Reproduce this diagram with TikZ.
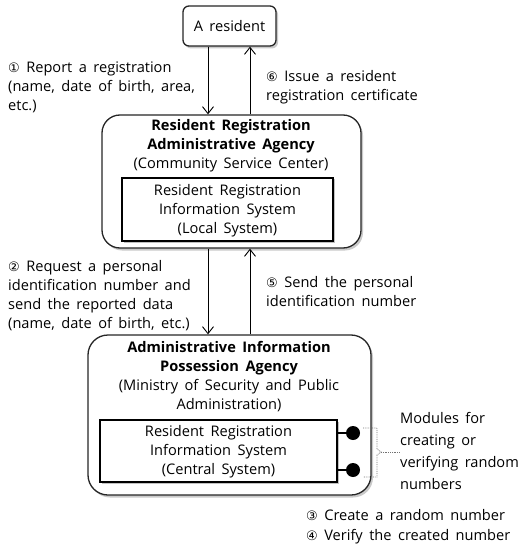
\documentclass[tikz,border=0pt]{standalone}
\usepackage{fontspec}
\setmainfont{Open Sans}[WordSpace=1.7]
\newfontfamily\symf{DejaVu Sans}
\usetikzlibrary{arrows.meta,shadows,calc}
\newcommand{\cn}[1]{{\symf\fontsize{13}{14}\selectfont #1}}
\begin{document}
\begin{tikzpicture}[x=1pt,y=-1pt,
  txt/.style={inner sep=0pt,align=left,font=\fontsize{14.6}{19}\selectfont},
  ctxt/.style={inner sep=0pt,align=center,font=\fontsize{14.6}{19}\selectfont},
  rbox/.style={draw=black!85,line width=1.3pt,fill=white,drop shadow={shadow xshift=2pt,shadow yshift=-2.5pt,fill=black!35,opacity=0.6}},
  ibox/.style={draw=black,line width=1.1pt,fill=white,drop shadow={shadow xshift=1.5pt,shadow yshift=-1.5pt,fill=black!40,opacity=0.6}},
  arr/.style={line width=0.9pt,-{Straight Barb[length=7pt,width=11pt,line width=0.9pt]}},
  brk/.style={draw=black!55,densely dotted,line width=0.8pt}]
\useasboundingbox (0,0) rectangle (521,545);
% boxes
\node[rbox,rounded corners=6pt,minimum width=93pt,minimum height=40pt,inner sep=0pt] (res) at (229.5,26) {};
\node[ctxt] (rest) at (229.5,26) {A resident};
\node[rbox,rounded corners=18pt,minimum width=259pt,minimum height=133pt,inner sep=0pt] (ag1) at (231.5,181.5) {};
\node[ibox,minimum width=211pt,minimum height=63pt,inner sep=0pt] (in1) at (227.5,209.5) {};
\node[ctxt,anchor=north] (ag1t) at (231,119) {\textbf{Resident Registration}\\\textbf{Administrative Agency}\\(Community Service Center)};
\node[ctxt] (in1t) at (227.5,211) {Resident Registration\\Information System\\(Local System)};
\node[rbox,rounded corners=20pt,minimum width=283pt,minimum height=160pt,inner sep=0pt] (ag2) at (229.5,415) {};
\node[ibox,minimum width=237pt,minimum height=62pt,inner sep=0pt] (in2) at (218.5,451) {};
\node[ctxt,anchor=north] (ag2t) at (229,341) {\textbf{Administrative Information}\\\textbf{Possession Agency}\\(Ministry of Security and Public\\Administration)};
\node[ctxt] (in2t) at (218.5,452) {Resident Registration\\Information System\\(Central System)};
% module dots
\node[circle,fill=black,minimum size=14pt,inner sep=0pt] (d1) at (353,433) {};
\node[circle,fill=black,minimum size=14pt,inner sep=0pt] (d2) at (353,470) {};
\draw[line width=1.1pt] (in2.east |- d1) -- (d1);
\draw[line width=1.1pt] (in2.east |- d2) -- (d2);
% arrow columns
\coordinate (xa) at (208,0);
\coordinate (xb) at (250,0);
\draw[arr] (res.south -| xa) -- (ag1.north -| xa);
\draw[arr] (ag1.north -| xb) -- (res.south -| xb);
\draw[arr] (ag1.south -| xa) -- (ag2.north -| xa);
\draw[arr] (ag2.north -| xb) -- (ag1.south -| xb);
% labels
\node[txt,anchor=north west] (l1) at (8,62) {\cn{①} Report a registration\\(name, date of birth, area,\\etc.)};
\node[txt,anchor=north west] (l6) at (266,70) {\cn{⑥} Issue a resident\\registration certificate};
\node[txt,anchor=north west] (l2) at (8,260) {\cn{②} Request a personal\\identification number and\\send the reported data\\(name, date of birth, etc.)};
\node[txt,anchor=north west] (l5) at (266,276) {\cn{⑤} Send the personal\\identification number};
\node[txt,anchor=north west,font=\fontsize{14.6}{22}\selectfont] (mod) at (400,412) {Modules for\\creating or\\verifying random\\numbers};
\node[txt,anchor=north west,font=\fontsize{14.6}{20.5}\selectfont] (l34) at (306,509) {\cn{③} Create a random number\\\cn{④} Verify the created number};
% bracket
\coordinate (bt) at (363,428);
\coordinate (bb) at (363,477);
\coordinate (bm) at (381,452);
\draw[brk] (bt) -- (377,428) -- (377,449) -- (bm) -- (377,455) -- (377,477) -- (bb);
\draw[brk] (bm) -- (mod.west |- bm);
\end{tikzpicture}
\end{document}
